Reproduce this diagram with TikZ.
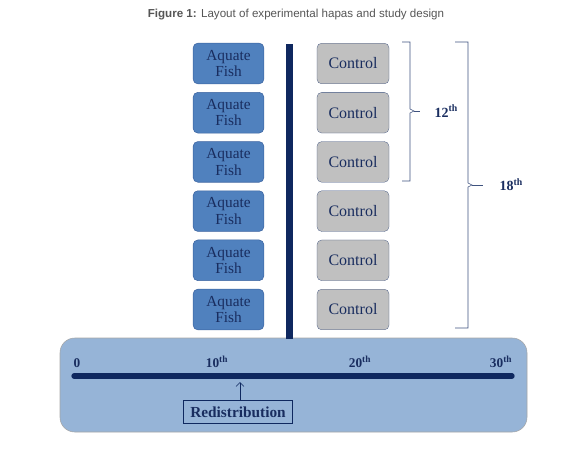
\documentclass[tikz,border=0pt]{standalone}
\usepackage{fontspec}
\setmainfont{Liberation Serif}
\newfontfamily\titlefont{Liberation Sans}
\usepackage{tikz}
\usetikzlibrary{arrows.meta,positioning,calc}
\usepackage{xcolor}
\definecolor{navy}{RGB}{15, 40, 95}
\definecolor{textnavy}{RGB}{25, 45, 95}
\definecolor{aquablue}{RGB}{80, 129, 190}
\definecolor{aquaedge}{RGB}{60, 100, 160}
\definecolor{ctrlgray}{RGB}{192, 192, 192}
\definecolor{timeblue}{RGB}{150, 180, 215}
\definecolor{titlegray}{RGB}{85, 85, 85}

\tikzset{
    aquabox/.style={draw=aquaedge, fill=aquablue, rounded corners=3.5pt, thin,
        minimum width=53pt, minimum height=30.5pt, align=center, inner sep=1pt,
        text=textnavy, font=\fontsize{11.5}{12.3}\selectfont},
    ctrlbox/.style={draw=navy!80, fill=ctrlgray, rounded corners=3.5pt, very thin,
        minimum width=54pt, minimum height=30.5pt,
        text=textnavy, font=\fontsize{12}{12}\selectfont},
    bracelabel/.style={text=textnavy, font=\bfseries\fontsize{10.5}{12}\selectfont},
    ticklabel/.style={text=textnavy, font=\bfseries\fontsize{10}{12}\selectfont}
}

\begin{document}
\begin{tikzpicture}[x=0.75pt, y=-0.75pt]
    \useasboundingbox (0,0) rectangle (582,455);

    % Title
    \node (title) at (296,15) {\titlefont\fontsize{8.7}{10}\selectfont\color{titlegray}\textbf{Figure 1:} Layout of experimental hapas and study design};

    % Timeline panel
    \draw[fill=timeblue, draw=gray!70, rounded corners=11pt] (60,338) rectangle (527,432);

    % Separator
    \draw[navy, line width=5.5pt] (289.5,44) -- (289.5,339);

    % Hapas
    \foreach \i in {1,...,6} {
        \node[aquabox] (aqua\i) at (228.5,{63.5+49.2*(\i-1)}) {Aquate\\Fish};
        \node[ctrlbox] (ctrl\i) at (353,{63.5+49.2*(\i-1)}) {Control};
    }

    % Braces
    \draw[navy!80, thin] (402,42) -- (410,42) -- (410,109) -- (414,111) -- (410,113) -- (410,181) -- (402,181);
    \draw[navy!80, thin] (414,111) -- (420,111);
    \node[bracelabel, anchor=west] (d12) at (430,111) {12\textsuperscript{th}};
    \draw[navy!80, thin] (455,42) -- (468,42) -- (468,183) -- (472,185) -- (468,187) -- (468,328) -- (455,328);
    \draw[navy!80, thin] (472,185) -- (483,185);
    \node[bracelabel, anchor=west] (d18) at (495,185) {18\textsuperscript{th}};

    % Timeline
    \draw[navy, line width=4pt, line cap=round] (74,376) -- (512,376);
    \node[ticklabel, anchor=base west] (t0) at (69,367) {0};
    \node[ticklabel, anchor=base] (t10) at (217,367) {10\textsuperscript{th}};
    \node[ticklabel, anchor=base] (t20) at (360,367) {20\textsuperscript{th}};
    \node[ticklabel, anchor=base east] (t30) at (517,367) {30\textsuperscript{th}};

    % Redistribution
    \node[draw=navy, thin, inner sep=2.5pt, minimum width=82pt, minimum height=17pt,
        text=textnavy, font=\bfseries\fontsize{11.5}{12}\selectfont] (redis) at (238,412) {Redistribution};
    \coordinate (redisday) at (240,382);
    \draw[-{Straight Barb[length=3pt]}, navy, thin] (redis.north -| redisday) -- (redisday);
\end{tikzpicture}
\end{document}
